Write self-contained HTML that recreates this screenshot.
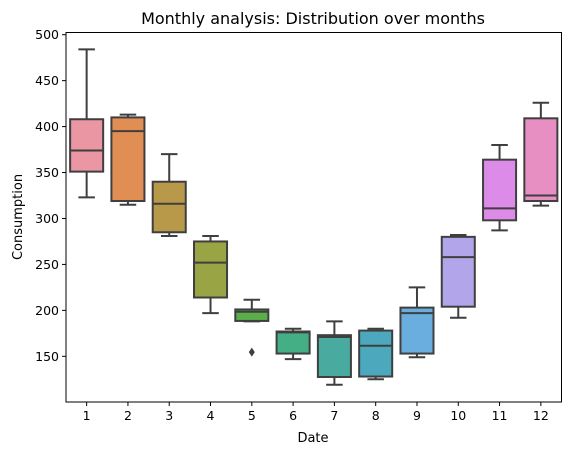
<!DOCTYPE html>
<html><head><meta charset="utf-8"><style>
body{margin:0;background:#fff;}
svg{display:block;font-family:"DejaVu Sans","Liberation Sans",sans-serif;}
</style></head><body>
<svg id="chart" width="571" height="455" viewBox="0 0 571 455">
<text x="313" y="24" text-anchor="middle" font-size="16" fill="#000">Monthly analysis: Distribution over months</text>
<g id="plot"></g>
<rect x="66" y="32.5" width="495.5" height="369.5" fill="none" stroke="#000" stroke-width="1"/>
<text x="313" y="442" text-anchor="middle" font-size="13">Date</text>
<text transform="translate(22,217) rotate(-90)" text-anchor="middle" font-size="13">Consumption</text>
</svg>
<script>
const categories=["1","2","3","4","5","6","7","8","9","10","11","12"];
const whiskerLow=[323,315,281,197,188,147,119,125,149,192,287,314];
const q1=[351,319,285,214,188.5,153,127.5,128,153,204,298,319];
const medians=[374,395,316,252,198.5,176,171,161.5,197,258,311,325];
const q3=[408,410,340,275,201,177,173,178,203,280,364,409];
const whiskerHigh=[484,413,370,281,211.5,180,188,180,225,282,380,426];
const outliers=[[],[],[],[],[154.5],[],[],[],[],[],[],[]];
const yTicks=[150,200,250,300,350,400,450,500];
const colors=["#ea96a3","#e08e54","#b8994a","#99a445","#5aad48","#44ae84","#49aba0","#4ba8bd","#6aaee0","#b3a5e9","#dd8be8","#e78ec3"];
const ns="http://www.w3.org/2000/svg";
const L=66,R=561.5,T=32.5,B=402;
const y=v=>34.7+(500-v)*0.9189;
const step=(R-L)/categories.length;
const x=i=>L+step*(i+0.5);
const g=document.getElementById('plot');
function mk(tag,attrs){const e=document.createElementNS(ns,tag);for(const k in attrs)e.setAttribute(k,attrs[k]);g.appendChild(e);return e;}
const ed="#3f3f3f";
const sw=2;
yTicks.forEach(t=>{
  const l=mk('line',{x1:L-4,x2:L,y1:y(t),y2:y(t),stroke:'#000'});
  
  
  const tx=mk('text',{x:L-7,y:y(t)+4.5,'text-anchor':'end','font-size':'12.5'});
  tx.textContent=t;
  
  
});
categories.forEach((c,i)=>{
  const cx=x(i),w=step*0.8,hw=w/2,cap=w/4;
  const l=mk('line',{x1:cx,x2:cx,y1:B,y2:B+4,stroke:'#000'});
  
  
  const tx=mk('text',{x:cx,y:B+18,'text-anchor':'middle','font-size':'12.5'});
  tx.textContent=c;
  
  
  const w1=mk('line',{x1:cx,x2:cx,y1:y(whiskerHigh[i]),y2:y(q3[i]),stroke:ed,'stroke-width':sw});
  
  
  const w2=mk('line',{x1:cx,x2:cx,y1:y(q1[i]),y2:y(whiskerLow[i]),stroke:ed,'stroke-width':sw});
  
  
  const c1=mk('line',{x1:cx-cap,x2:cx+cap,y1:y(whiskerHigh[i]),y2:y(whiskerHigh[i]),stroke:ed,'stroke-width':sw});
  
  
  const c2=mk('line',{x1:cx-cap,x2:cx+cap,y1:y(whiskerLow[i]),y2:y(whiskerLow[i]),stroke:ed,'stroke-width':sw});
  
  
  const b=mk('rect',{x:cx-hw,y:y(q3[i]),width:w,height:y(q1[i])-y(q3[i]),fill:colors[i],stroke:ed,'stroke-width':sw});
  
  
  const m=mk('line',{x1:cx-hw,x2:cx+hw,y1:y(medians[i]),y2:y(medians[i]),stroke:ed,'stroke-width':sw});
  
  
  outliers[i].forEach(o=>{
    const p=mk('path',{d:`M${cx},${y(o)-4.5}L${cx+3},${y(o)}L${cx},${y(o)+4.5}L${cx-3},${y(o)}Z`,fill:ed});
    
    
  });
});
</script>
</body></html>
